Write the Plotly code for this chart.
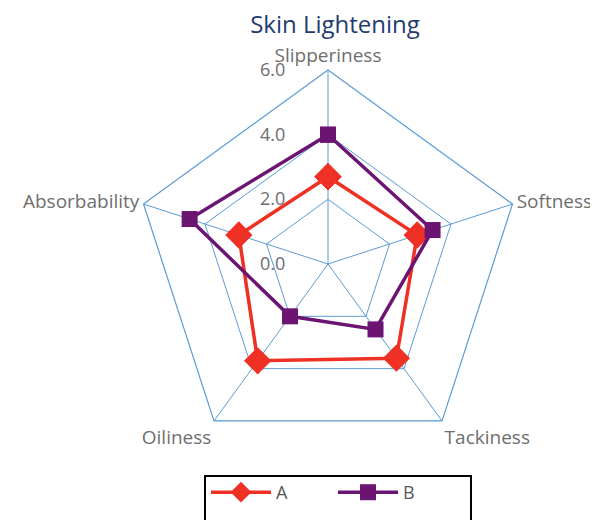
import plotly.graph_objects as go

categories = ["Slipperiness", "Softness", "Tackiness", "Oiliness", "Absorbability"]
series_a = [2.7, 2.9, 3.6, 3.7, 2.9]
series_b = [4.0, 3.4, 2.5, 2.0, 4.5]
radial_ticks = [0, 2, 4, 6]
radial_tick_labels = ["0.0", "2.0", "4.0", "6.0"]

W, H = 598, 520
cx, cy, R = 320, 256, 194

fig = go.Figure()
fig.add_trace(go.Scatterpolar(
    r=series_a + series_a[:1], theta=categories + categories[:1], name="A",
    mode="lines+markers",
    line=dict(color="#EE3124", width=3.5),
    marker=dict(symbol="diamond", size=21, color="#EE3124"),
))
fig.add_trace(go.Scatterpolar(
    r=series_b + series_b[:1], theta=categories + categories[:1], name="B",
    mode="lines+markers",
    line=dict(color="#6B1472", width=3.5),
    marker=dict(symbol="square", size=16, color="#6B1472"),
))

grid = "#5B9BD5"
fig.update_layout(
    width=W, height=H,
    margin=dict(l=0, r=0, t=0, b=0),
    paper_bgcolor="white",
    font=dict(family="Open Sans", color="#6E6E6E", size=19),
    title=dict(text="Skin Lightening", x=327 / W, xanchor="center", y=1 - 8 / H, yanchor="top",
               font=dict(family="Open Sans", size=24, color="#1F3C6E")),
    polar=dict(
        domain=dict(x=[(cx - R) / W, (cx + R) / W], y=[1 - (cy + R) / H, 1 - (cy - R) / H]),
        gridshape="linear",
        bgcolor="white",
        radialaxis=dict(range=[0, 6], tickvals=radial_ticks, ticktext=radial_tick_labels,
                        angle=90, tickangle=90, showline=False, gridcolor=grid, gridwidth=1.2,
                        ticks="outside", ticklen=36, tickcolor="rgba(0,0,0,0)",
                        side="counterclockwise",
                        tickfont=dict(size=18, color="#6E6E6E")),
        angularaxis=dict(rotation=90, direction="clockwise", linecolor=grid, linewidth=1.2,
                         gridcolor=grid, gridwidth=1.2, ticks="",
                         tickfont=dict(size=19, color="#6E6E6E")),
    ),
    showlegend=True,
    legend=dict(orientation="h", x=198 / W, xanchor="left", y=1 - 466 / H, yanchor="top",
                bgcolor="rgba(0,0,0,0)", itemwidth=60,
                font=dict(size=18, color="#595959"), entrywidth=52, entrywidthmode="pixels"),
    shapes=[dict(type="rect", xref="paper", yref="paper",
                 x0=197 / W, x1=463 / W, y0=-0.1, y1=1 - 468 / H,
                 line=dict(color="black", width=2))],
)

fig.write_html("out.html")
